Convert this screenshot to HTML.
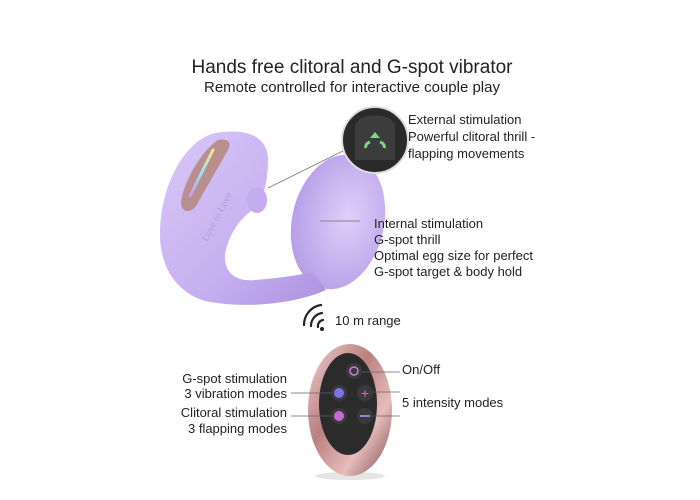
<!DOCTYPE html>
<html><head><style>
html,body{margin:0;padding:0;background:#fff;}
svg{display:block;font-family:"Liberation Sans",sans-serif;}
</style></head><body>
<svg width="700" height="500" viewBox="0 0 700 500" xmlns="http://www.w3.org/2000/svg">
<defs>
<linearGradient id="lav" x1="0" y1="0" x2="1" y2="1">
<stop offset="0" stop-color="#d9c8f6"/><stop offset="0.6" stop-color="#c6aff0"/><stop offset="1" stop-color="#ad92e2"/></linearGradient>
<radialGradient id="egg" cx="0.6" cy="0.45" r="0.6">
<stop offset="0" stop-color="#e0cff9"/><stop offset="1" stop-color="#b89fe8"/></radialGradient>
<linearGradient id="rose" x1="0" y1="0" x2="1" y2="1">
<stop offset="0" stop-color="#f0cfcf"/><stop offset="0.4" stop-color="#b9807f"/><stop offset="0.7" stop-color="#e6bcbc"/><stop offset="1" stop-color="#7a4a4c"/></linearGradient>
<linearGradient id="led" x1="0" y1="0" x2="0" y2="1">
<stop offset="0" stop-color="#f6e78a"/><stop offset="0.5" stop-color="#9de0f0"/><stop offset="1" stop-color="#c99af0"/></linearGradient>
</defs>
<text x="352" y="73" text-anchor="middle" font-size="19" fill="#222">Hands free clitoral and G-spot vibrator</text>
<text x="352" y="92" text-anchor="middle" font-size="15" fill="#222">Remote controlled for interactive couple play</text>

<!-- egg -->
<ellipse cx="338" cy="222" rx="46" ry="68" transform="rotate(12 338 222)" fill="url(#egg)"/>
<!-- vibrator arm -->
<path d="M215 133 C245 128 268 135 268 160 C268 185 262 200 255 208 C240 218 228 235 225 255 C224 272 235 282 255 280 C280 278 300 275 312 272 L326 290 C300 302 250 310 205 301 C175 292 160 265 160 235 C160 185 185 140 215 133 Z" fill="url(#lav)"/>
<!-- clitoral nub -->
<ellipse cx="257" cy="200" rx="10" ry="13" fill="#c4acef"/>
<!-- rose panel -->
<path d="M218 140 C228 138 232 143 228 150 L196 206 C190 214 182 212 181 204 C182 185 200 152 218 140 Z" fill="#b98e8e"/>
<path d="M213 150 L190 196" stroke="url(#led)" stroke-width="3" stroke-linecap="round"/>
<text x="0" y="0" font-family="Liberation Serif,serif" font-size="10" fill="#b29ade" transform="translate(207 242) rotate(-62)">Love to Love</text>
<!-- connector lines -->
<line x1="268" y1="188" x2="345" y2="150" stroke="#777" stroke-width="0.8"/>
<line x1="320" y1="221" x2="360" y2="221" stroke="#888" stroke-width="1"/>
<!-- inset -->
<circle cx="375" cy="140" r="33" fill="#2a2a2a" stroke="#ddd" stroke-width="2"/>
<path d="M355 125 C360 112 390 112 395 125 L395 160 L355 160 Z" fill="#3c3c3c"/>
<path d="M375 132 l5 6 h-10 z" fill="#7fd48a"/>
<path d="M366 148 a7 5 0 0 1 4 -6 M384 148 a7 5 0 0 0 -4 -6" stroke="#7fd48a" stroke-width="3" fill="none"/>
<g font-size="13" fill="#222">
<text x="408" y="124">External stimulation</text>
<text x="408" y="141">Powerful clitoral thrill -</text>
<text x="408" y="158">flapping movements</text>
<text x="374" y="228">Internal stimulation</text>
<text x="374" y="244">G-spot thrill</text>
<text x="374" y="260">Optimal egg size for perfect</text>
<text x="374" y="276">G-spot target &amp; body hold</text>
<text x="335" y="325">10 m range</text>
<text x="287" y="383" text-anchor="end">G-spot stimulation</text>
<text x="287" y="398" text-anchor="end">3 vibration modes</text>
<text x="287" y="417" text-anchor="end">Clitoral stimulation</text>
<text x="287" y="433" text-anchor="end">3 flapping modes</text>
<text x="402" y="374">On/Off</text>
<text x="402" y="407">5 intensity modes</text>
</g>
<!-- wifi -->
<g stroke="#222" stroke-width="2.2" fill="none" stroke-linecap="round">
<path d="M318 327 a6 6 0 0 1 5 -7"/>
<path d="M311 326 a13 13 0 0 1 11 -13"/>
<path d="M304 325 a20 20 0 0 1 17 -20"/>
</g>
<circle cx="322" cy="329" r="2" fill="#222"/>
<!-- remote -->
<ellipse cx="350" cy="476" rx="35" ry="4" fill="#e5e5e5"/>
<ellipse cx="350" cy="410" rx="42" ry="66" fill="url(#rose)"/>
<ellipse cx="348" cy="404" rx="29" ry="51" fill="#2b2b2b"/>
<circle cx="354" cy="371" r="8" fill="#3a3a3a"/><circle cx="354" cy="371" r="4" fill="none" stroke="#c77ee0" stroke-width="1.5"/>
<circle cx="339" cy="393" r="8" fill="#3a3a3a"/><circle cx="339" cy="393" r="5" fill="#7b74e6"/>
<circle cx="365" cy="393" r="8" fill="#3a3a3a"/><text x="365" y="398" text-anchor="middle" font-size="14" fill="#d66bc3">+</text>
<circle cx="339" cy="416" r="8" fill="#3a3a3a"/><circle cx="339" cy="416" r="5" fill="#c66ad8"/>
<circle cx="365" cy="416" r="8" fill="#3a3a3a"/><line x1="360" y1="416" x2="370" y2="416" stroke="#8a86e0" stroke-width="2"/>
<line x1="362" y1="372" x2="400" y2="372" stroke="#666" stroke-width="0.8"/>
<line x1="291" y1="393" x2="331" y2="393" stroke="#666" stroke-width="0.8"/>
<line x1="291" y1="416" x2="331" y2="416" stroke="#666" stroke-width="0.8"/>
<line x1="373" y1="392" x2="400" y2="392" stroke="#666" stroke-width="0.8"/>
<line x1="373" y1="416" x2="400" y2="416" stroke="#666" stroke-width="0.8"/>
</svg>
</body></html>
